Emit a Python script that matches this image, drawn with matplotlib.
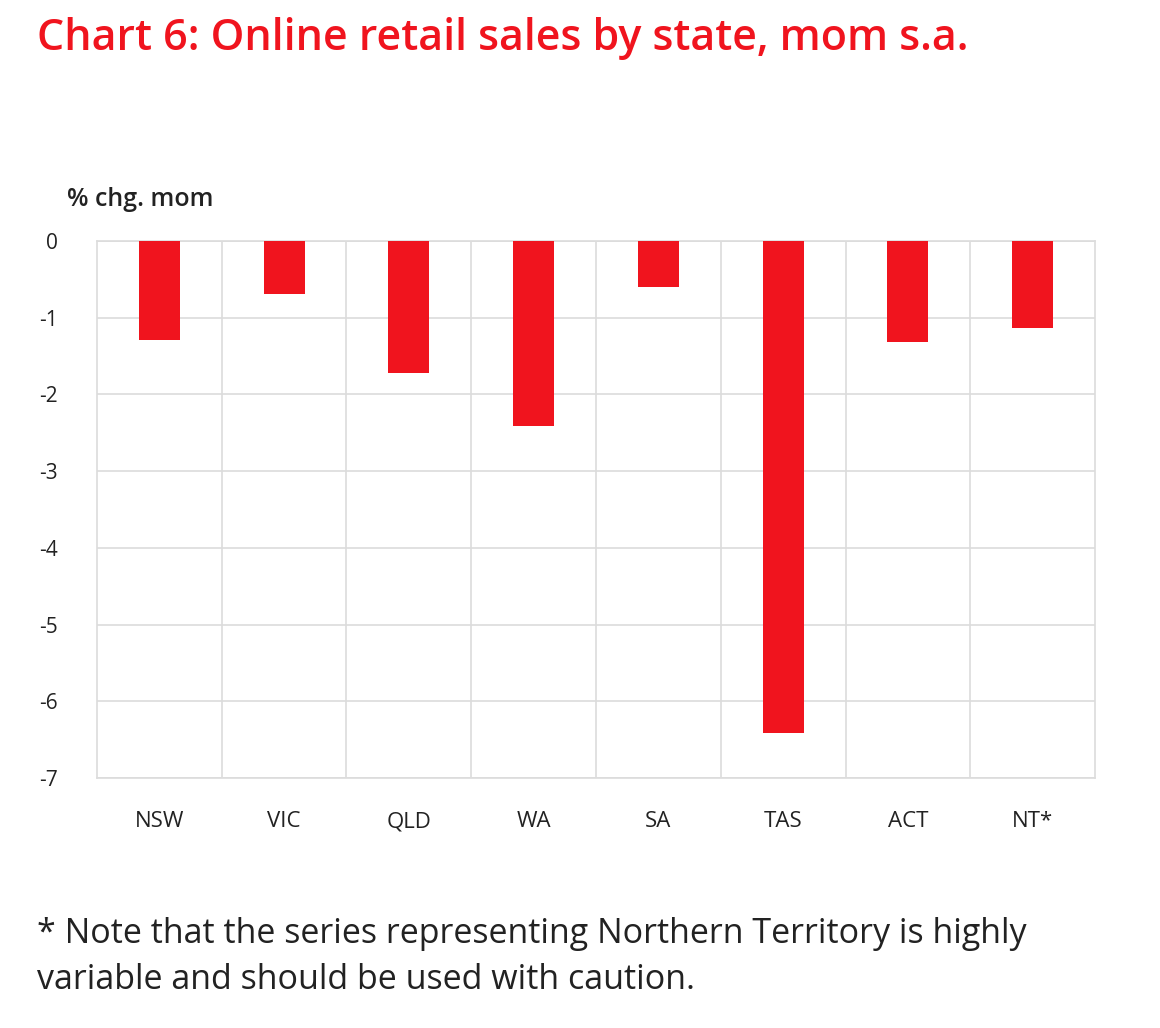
import matplotlib
matplotlib.use("Agg")
import matplotlib.pyplot as plt

states = ["NSW", "VIC", "QLD", "WA", "SA", "TAS", "ACT", "NT*"]
values = [-1.29, -0.69, -1.72, -2.41, -0.60, -6.41, -1.32, -1.13]
yticks = [0, -1, -2, -3, -4, -5, -6, -7]

plt.rcParams['font.family'] = ['Open Sans', 'DejaVu Sans']
red = "#f0141e"

fig = plt.figure(figsize=(11.6, 10.28), dpi=100)
ax = fig.add_axes([0.0836, 0.2432, 0.8604, 0.5224])
x = range(len(states))
ax.bar(x, values, width=0.33, color=red, zorder=3)
ax.set_xlim(-0.5, len(states) - 0.5)
ax.set_ylim(-7, 0)
ax.set_yticks(yticks)
ax.set_yticklabels([str(t) for t in yticks], fontsize=15, color="#222222")
ax.set_xticks(list(x))
ax.set_xticklabels(states, fontsize=16, color="#222222")
ax.set_xticks([i + 0.5 for i in range(len(states) - 1)], minor=True)
ax.grid(True, which='major', axis='y', color="#dcdcdc", lw=1.2, zorder=0)
ax.grid(True, which='minor', axis='x', color="#dcdcdc", lw=1.2, zorder=0)
ax.tick_params(which='both', length=0)
ax.tick_params(axis='y', pad=28)
ax.tick_params(axis='x', pad=24)
for s in ax.spines.values():
    s.set_color("#dcdcdc")
    s.set_linewidth(1.2)

fig.text(0.032, 0.963, "Chart 6: Online retail sales by state, mom s.a.", color=red,
         fontsize=31, fontweight='semibold', va='center', ha='left')
fig.text(0.058, 0.806, "% chg. mom", fontsize=18, fontweight='semibold', va='center', ha='left', color="#222222")
fig.text(0.032, 0.069, "* Note that the series representing Northern Territory is highly\nvariable and should be used with caution.",
         fontsize=24.5, va='center', ha='left', color="#222222", linespacing=1.45)

fig.savefig("out.png", dpi=100, facecolor="white")
